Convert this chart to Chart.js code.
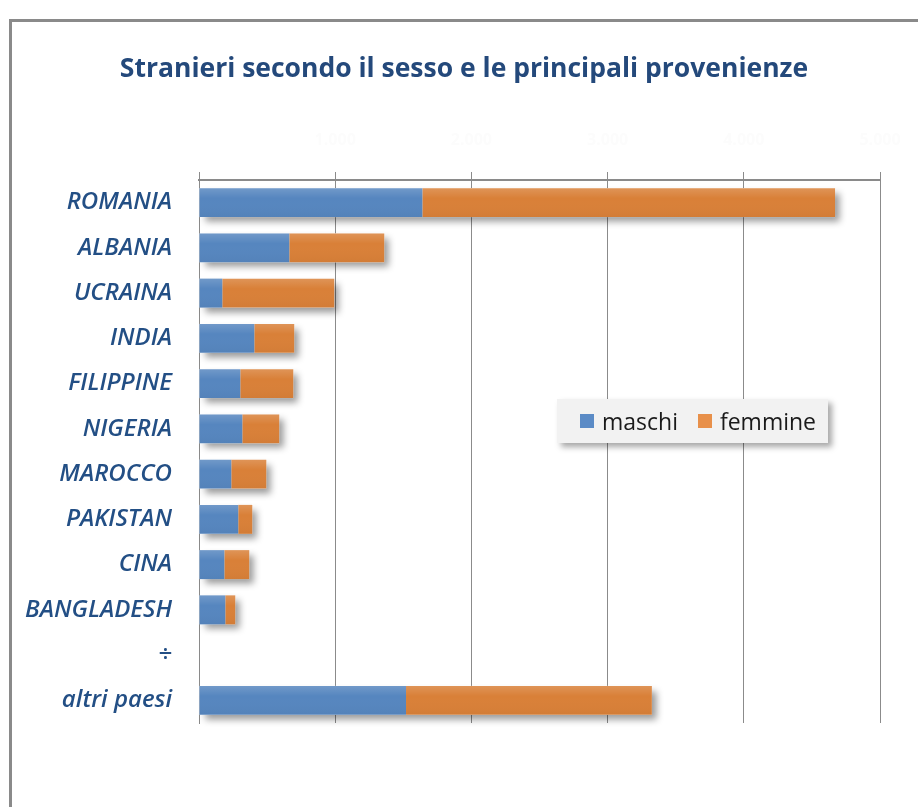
<!DOCTYPE html>
<html>
<head>
<meta charset="utf-8">
<script src="https://cdn.jsdelivr.net/npm/chart.js@4/dist/chart.umd.min.js"></script>
<style>
  html, body { margin: 0; padding: 0; background: #ffffff; width: 918px; height: 807px; overflow: hidden; }
  #wrap { position: relative; width: 918px; height: 807px; }
  #frame { position: absolute; left: 9px; top: 19px; width: 930px; height: 820px;
           border-left: 3px solid #8a8a8a; border-top: 3px solid #8a8a8a; }
  #title { position: absolute; left: 0; top: 49px; width: 928px; text-align: center;
           font-family: "Open Sans", sans-serif; font-weight: 700; font-size: 26.5px; color: #24497b; }
  canvas { position: absolute; left: 0; top: 0; }
  #legend { position: absolute; left: 557px; top: 399px; width: 271px; height: 44px;
            background: #f2f2f2; box-shadow: 4px 4px 6px rgba(0,0,0,0.35);
            font-family: "Open Sans", sans-serif; font-size: 23px; color: #1a1a1a;
            display: flex; align-items: center; padding-left: 23px; box-sizing: border-box; }
  .item { display: flex; align-items: center; margin-right: 20px; }
  .sw { width: 14px; height: 14px; margin-right: 8px; }
</style>
</head>
<body>
<div id="wrap">
  <div id="frame"></div>
  <canvas id="c" width="918" height="807"></canvas>
  <div id="title">Stranieri secondo il sesso e le principali provenienze</div>
  <div id="legend"></div>
</div>
<script>
const categories = ["ROMANIA", "ALBANIA", "UCRAINA", "INDIA", "FILIPPINE", "NIGERIA",
                    "MAROCCO", "PAKISTAN", "CINA", "BANGLADESH", "÷", "altri paesi"];
const maschi  = [1640, 663, 171, 406, 303, 318, 237, 288, 186, 193, null, 1520];
const femmine = [3030, 697, 822, 293, 389, 271, 257, 103, 183, 73, null, 1805];
const seriesNames = ["maschi", "femmine"];
const seriesColors = ["#5686bf", "#d98038"];
const legendColors = ["#5b8bc6", "#e8904a"];
const tickValues = [0, 1000, 2000, 3000, 4000, 5000];

// Drop shadow behind each whole stacked bar + light top sheen, from the library's bar elements
const shadowPlugin = {
  id: 'barShadow',
  beforeDatasetsDraw(chart) {
    const ctx = chart.ctx;
    const metas = chart.getSortedVisibleDatasetMetas();
    const n = chart.data.labels.length;
    ctx.save();
    ctx.shadowColor = 'rgba(0,0,0,0.40)';
    ctx.shadowBlur = 7;
    ctx.shadowOffsetX = 5;
    ctx.shadowOffsetY = 5;
    ctx.fillStyle = '#ffffff';
    for (let i = 0; i < n; i++) {
      let left = Infinity, right = -Infinity, top = 0, h = 0;
      metas.forEach(m => {
        const el = m.data[i];
        const raw = chart.data.datasets[m.index].data[i];
        if (!el || raw === null || raw === undefined) return;
        left = Math.min(left, el.base, el.x);
        right = Math.max(right, el.base, el.x);
        top = el.y - el.height / 2; h = el.height;
      });
      if (right > left) ctx.fillRect(left, top, right - left, h);
    }
    ctx.restore();
  },
  afterDatasetsDraw(chart) {
    const ctx = chart.ctx;
    ctx.save();
    chart.getSortedVisibleDatasetMetas().forEach(m => {
      m.data.forEach((el, i) => {
        const raw = chart.data.datasets[m.index].data[i];
        if (raw === null || raw === undefined) return;
        const top = el.y - el.height / 2;
        const g = ctx.createLinearGradient(0, top, 0, top + el.height);
        g.addColorStop(0, 'rgba(255,255,255,0.16)');
        g.addColorStop(0.35, 'rgba(255,255,255,0.0)');
        g.addColorStop(1, 'rgba(0,0,0,0.03)');
        ctx.fillStyle = g;
        const l = Math.min(el.base, el.x), w = Math.abs(el.x - el.base);
        ctx.fillRect(l, top, w, el.height);
      });
    });
    ctx.restore();
  }
};

const ctx = document.getElementById('c').getContext('2d');
const chart = new Chart(ctx, {
  type: 'bar',
  data: {
    labels: categories,
    datasets: [
      { label: seriesNames[0], data: maschi, backgroundColor: seriesColors[0], borderWidth: 0,
        categoryPercentage: 1, barPercentage: 0.64 },
      { label: seriesNames[1], data: femmine, backgroundColor: seriesColors[1], borderWidth: 0,
        categoryPercentage: 1, barPercentage: 0.64 }
    ]
  },
  options: {
    indexAxis: 'y',
    responsive: false,
    animation: false,
    devicePixelRatio: 1,
    layout: { padding: { left: 0, top: 120, right: 38, bottom: 84 } },
    plugins: {
      legend: { display: false },
      title: { display: false },
      tooltip: { enabled: false }
    },
    scales: {
      x: {
        type: 'linear',
        position: 'top',
        stacked: true,
        min: tickValues[0],
        max: tickValues[tickValues.length - 1],
        z: 1,
        afterBuildTicks(scale) { scale.ticks = tickValues.map(v => ({ value: v })); },
        afterFit(scale) { scale.height = 60; scale.paddingLeft = 0; scale.paddingRight = 0; },
        ticks: {
          color: '#fcfcfc',
          padding: 22,
          font: { family: 'Open Sans', size: 16, weight: 'bold' },
          callback: v => v === 0 ? '' : v.toLocaleString('it-IT')
        },
        grid: { color: 'rgba(110,110,110,0.8)', lineWidth: 1, tickLength: 8, drawTicks: true },
        border: { display: true, color: '#8a8a8a', width: 2 }
      },
      y: {
        stacked: true,
        afterFit(scale) { scale.width = 199; },
        grid: { display: false },
        border: { display: true, color: '#8a8a8a', width: 1 },
        ticks: {
          color: '#234f85',
          padding: 19,
          font: { family: 'Open Sans', size: 24, style: 'italic', weight: '600' }
        }
      }
    }
  },
  plugins: [shadowPlugin]
});

const legend = document.getElementById('legend');
seriesNames.forEach((name, i) => {
  const it = document.createElement('div');
  it.className = 'item';
  const sw = document.createElement('div');
  sw.className = 'sw';
  sw.style.background = legendColors[i];
  const tx = document.createElement('span');
  tx.textContent = name;
  it.appendChild(sw); it.appendChild(tx);
  legend.appendChild(it);
});
</script>
</body>
</html>
